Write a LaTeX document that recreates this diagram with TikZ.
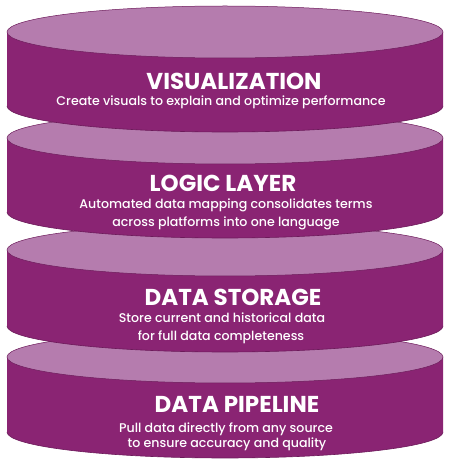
\documentclass[tikz,border=0pt]{standalone}
\usepackage{fontspec}
\setmainfont{Poppins}[UprightFont=* Medium]
\newfontfamily\headfont{Poppins}[UprightFont=* Bold]
\definecolor{facecol}{HTML}{B57CAE}
\definecolor{wallcol}{HTML}{8A2473}
\definecolor{rimcol}{HTML}{6C1A5A}
\tikzset{
  wall/.style={fill=wallcol},
  rim/.style={draw=rimcol, line width=0.6pt},
  face/.style={fill=facecol, draw=rimcol, line width=0.5pt},
  layertitle/.style={text=white, font=\headfont\fontsize{23}{26}\selectfont, anchor=base, inner sep=0pt},
  layertext/.style={text=white, font=\fontsize{12.6}{15}\selectfont, anchor=base, inner sep=0pt},
}
% one stacked disk: #1 = centre of the top face (measured from the top), #2 = wall height
\newcommand\layerdisk[2]{%
  \pgfmathsetmacro\ytop{461-#1}%
  \pgfmathsetmacro\ybot{461-#1-#2}%
  \fill[wall] (7,\ytop) -- (7,\ybot) arc[start angle=180, end angle=360, x radius=218pt, y radius=26pt] -- (443,\ytop) -- cycle;
  \draw[rim] (7,\ybot) arc[start angle=180, end angle=360, x radius=218pt, y radius=26pt];
  \path[face] (225,\ytop) ellipse[x radius=218pt, y radius=26pt];
}
\begin{document}
\begin{tikzpicture}[x=1pt, y=1pt]
\useasboundingbox (0,0) rectangle (452,461);

% disks, bottom one first so each upper disk overlaps the one below
\layerdisk{357}{75}
\layerdisk{250}{76}
\layerdisk{138}{74}
\layerdisk{32}{74}

% data pipeline
\node[layertitle] (pipeT) at (237,48) {DATA PIPELINE};
\node[layertext] (pipeA) at (226,28) {Pull data directly from any source};
\node[layertext] (pipeB) at (227,13) {to ensure accuracy and quality};

% data storage
\node[layertitle] (storT) at (233,155) {DATA STORAGE};
\node[layertext] (storA) at (222,138) {Store current and historical data};
\node[layertext] (storB) at (221,120) {for full data completeness};

% logic layer
\node[layertitle] (logT) at (223,269) {LOGIC LAYER};
\node[layertext] (logA) at (226,252) {Automated data mapping consolidates terms};
\node[layertext] (logB) at (226,234) {across platforms into one language};

% visualization
\node[layertitle] (visT) at (234,371) {VISUALIZATION};
\node[layertext] (visA) at (221,355) {Create visuals to explain and optimize performance};
\end{tikzpicture}
\end{document}
